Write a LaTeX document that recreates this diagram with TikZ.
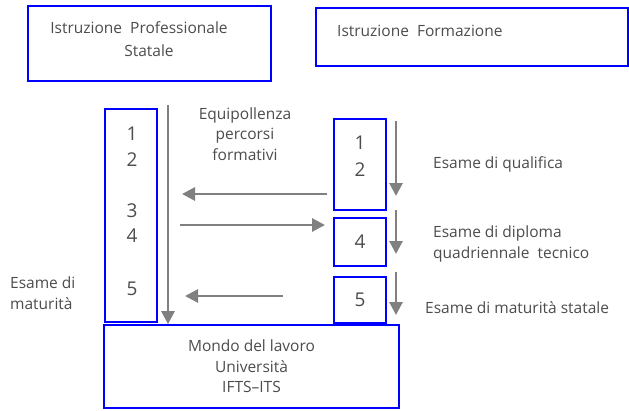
\documentclass[tikz,border=0pt]{standalone}
\usepackage{fontspec}
\setmainfont{Open Sans}
\usetikzlibrary{arrows.meta}
\begin{document}
\begin{tikzpicture}[x=1pt, y=-1pt,
    >={Triangle[length=13pt,width=13pt]},
    box/.style={draw=blue, line width=1.7pt, inner sep=0pt},
    flow/.style={->, draw=gray, line width=2.8pt},
    lbl/.style={font=\fontsize{15.5}{20.5}\selectfont, text=black!70, inner sep=0pt},
    num/.style={lbl, font=\fontsize{19}{20.5}\selectfont}]
    \useasboundingbox (0,0) rectangle (629,410);

    % Top boxes
    \node[box, minimum width=243pt, minimum height=75pt] (ips) at (149.5,43.5) {};
    \node[lbl] (ipsA) at (139,28) {Istruzione\ \ Professionale};
    \node[lbl] (ipsB) at (149,51) {Statale};
    \node[box, minimum width=312pt, minimum height=58pt] (ifp) at (472,37) {};
    \node[lbl, anchor=west] (ifpA) at (337,31) {Istruzione\ \ Formazione};

    % Left column
    \node[box, minimum width=52pt, minimum height=213pt] (lcol) at (131,215.5) {};
    \node[num] (l1) at (132,134) {1};
    \node[num] (l2) at (132,160) {2};
    \node[num] (l3) at (132,211) {3};
    \node[num] (l4) at (132,236) {4};
    \node[num] (l5) at (132,289) {5};

    % Right column
    \node[box, minimum width=52pt, minimum height=91pt] (r12) at (360,164.5) {};
    \node[num] (r1) at (360,143) {1};
    \node[num] (r2) at (360,170) {2};
    \node[box, num, minimum width=52pt, minimum height=48pt] (r4) at (360,242) {4};
    \node[box, num, minimum width=52pt, minimum height=46pt] (r5) at (360,300) {5};

    % Bottom box
    \node[box, lbl, align=center, minimum width=295pt, minimum height=83pt] (mdl) at (251.5,366.5)
        {Mondo del lavoro\\Università\\IFTS--ITS};

    % Labels
    \node[lbl, align=center] (eqp) at (245,134) {Equipollenza\\percorsi\\formativi};
    \node[lbl, align=left, anchor=west] (emat) at (10,293) {Esame di\\maturità};
    \node[lbl, anchor=west] (equal) at (433,164) {Esame di qualifica};
    \node[lbl, align=left, anchor=west] (edip) at (433,244) {Esame di diploma\\quadriennale\ \ tecnico};
    \node[lbl, anchor=west] (emst) at (425,308) {Esame di maturità statale};

    % Arrows
    \coordinate (vtop) at (168,105);
    \draw[flow] (vtop) -- (vtop |- mdl.north);
    \coordinate (b1s) at (327,194);
    \coordinate (b1e) at (182,194);
    \draw[flow] (b1s) -- (b1e);
    \coordinate (f1s) at (180,225);
    \coordinate (f1e) at (325,225);
    \draw[flow] (f1s) -- (f1e);
    \coordinate (b2s) at (283,296);
    \coordinate (b2e) at (185,296);
    \draw[flow] (b2s) -- (b2e);
    \coordinate (q1s) at (396,121);
    \coordinate (q1e) at (396,196);
    \draw[flow] (q1s) -- (q1e);
    \coordinate (q2s) at (396,210);
    \coordinate (q2e) at (396,254);
    \draw[flow] (q2s) -- (q2e);
    \coordinate (q3s) at (396,272);
    \coordinate (q3e) at (396,315);
    \draw[flow] (q3s) -- (q3e);
\end{tikzpicture}
\end{document}
